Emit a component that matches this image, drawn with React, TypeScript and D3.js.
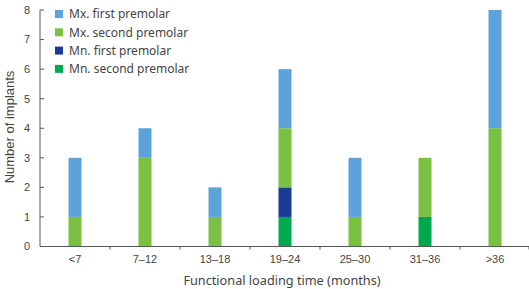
import React from "react";
import * as d3 from "d3";

const categories = ["<7", "7–12", "13–18", "19–24", "25–30", "31–36", ">36"];
const seriesNames = ["Mn. second premolar", "Mn. first premolar", "Mx. second premolar", "Mx. first premolar"];
const mnSecond = [0, 0, 0, 1, 0, 1, 0];
const mnFirst = [0, 0, 0, 1, 0, 0, 0];
const mxSecond = [1, 3, 1, 2, 1, 2, 4];
const mxFirst = [2, 1, 1, 2, 2, 0, 4];
const seriesColors = ["#00a94f", "#1b3a94", "#7ac143", "#5ba3d8"];
const yTicks = [0, 1, 2, 3, 4, 5, 6, 7, 8];

const W = 529;
const H = 289;

export default function App() {
  const left = 40;
  const right = 530;
  const top = 10;
  const bottom = 246.5;

  const x = d3.scaleBand<string>().domain(categories).range([left, right]).padding(0);
  const y = d3.scaleLinear().domain([0, 8]).range([bottom, top]);

  const rows = categories.map((c, i) => ({
    cat: c,
    s0: mnSecond[i],
    s1: mnFirst[i],
    s2: mxSecond[i],
    s3: mxFirst[i],
  }));
  const stack = d3.stack<any>().keys(["s0", "s1", "s2", "s3"]);
  const layers = stack(rows);
  const barW = 13;

  const legendOrder = [3, 2, 1, 0];

  return (
    <svg
      width={W}
      height={H}
      style={{ position: "fixed", left: 0, top: 0, background: "#fff" }}
    >
      {layers.map((layer, li) =>
        layer.map((d, i) =>
          d[1] - d[0] > 0 ? (
            <rect
              key={`${li}-${i}`}
              x={(x(categories[i]) as number) + x.bandwidth() / 2 - barW / 2}
              y={y(d[1])}
              width={barW}
              height={y(d[0]) - y(d[1])}
              fill={seriesColors[li]}
            />
          ) : null
        )
      )}

      {/* axes */}
      <line x1={left} x2={left} y1={top} y2={bottom} stroke="#555" strokeWidth={1} />
      <line x1={left} x2={right} y1={bottom} y2={bottom} stroke="#555" strokeWidth={1} />
      {yTicks.map((t) => (
        <g key={t}>
          <line x1={left} x2={left + 4} y1={y(t)} y2={y(t)} stroke="#555" />
          <text
            x={30}
            y={y(t)}
            dy="0.35em"
            textAnchor="end"
            fontFamily="Liberation Sans, Arial, sans-serif"
            fontSize={11}
            fill="#444"
          >
            {t}
          </text>
        </g>
      ))}
      {categories.map((c, i) => (
        <g key={c}>
          {i > 0 && (
            <line
              x1={x(c) as number}
              x2={x(c) as number}
              y1={bottom}
              y2={bottom + 3}
              stroke="#555"
            />
          )}
          <text
            x={(x(c) as number) + x.bandwidth() / 2}
            y={263}
            textAnchor="middle"
            fontFamily="Liberation Sans, Arial, sans-serif"
            fontSize={11}
            fill="#444"
          >
            {c}
          </text>
        </g>
      ))}
      <line x1={right - 1} x2={right - 1} y1={bottom} y2={bottom + 3} stroke="#555" />

      {/* axis titles */}
      <text
        transform={`translate(14,127) rotate(-90)`}
        textAnchor="middle"
        fontFamily="Liberation Sans, Arial, sans-serif"
        fontSize={13}
        fill="#444"
      >
        Number of implants
      </text>
      <text
        x={282}
        y={285}
        textAnchor="middle"
        fontFamily="Noto Sans, sans-serif"
        fontSize={12.7}
        fill="#444"
      >
        Functional loading time (months)
      </text>

      {/* legend */}
      {legendOrder.map((si, k) => (
        <g key={si} transform={`translate(55,${10 + k * 18.3})`}>
          <rect x={0} y={0} width={8} height={8} fill={seriesColors[si]} />
          <text
            x={14}
            y={4}
            dy="0.35em"
            fontFamily="Noto Sans, sans-serif"
            fontSize={12}
            fill="#444"
          >
            {seriesNames[si]}
          </text>
        </g>
      ))}
    </svg>
  );
}
